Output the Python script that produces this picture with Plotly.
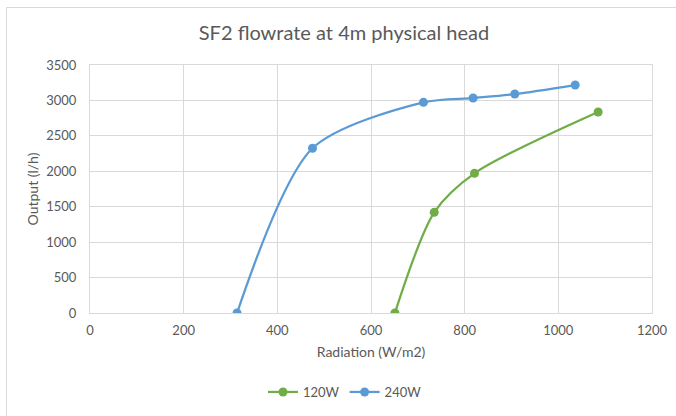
import plotly.graph_objects as go

# Data
radiation_120 = [651, 735, 821, 1085]
output_120 = [0, 1421, 1971, 2836]
radiation_240 = [314, 475, 712, 818, 907, 1036]
output_240 = [0, 2325, 2973, 3034, 3090, 3217]

x_ticks = [0, 200, 400, 600, 800, 1000, 1200]
y_ticks = [0, 500, 1000, 1500, 2000, 2500, 3000, 3500]

FONT = "Lato"
TXT = "#595959"
GRID = "#D9D9D9"

fig = go.Figure()
fig.add_trace(go.Scatter(
    x=radiation_120, y=output_120, name="120W", mode="lines+markers",
    line=dict(color="#70AD47", width=2.25, shape="spline", smoothing=0.8),
    marker=dict(color="#70AD47", size=9),
))
fig.add_trace(go.Scatter(
    x=radiation_240, y=output_240, name="240W", mode="lines+markers",
    line=dict(color="#5B9BD5", width=2.25, shape="spline", smoothing=0.8),
    marker=dict(color="#5B9BD5", size=9),
))

W, H = 676, 416
L, T = 90, 65
R = W - 652
B = H - 313
pw, ph = W - L - R, H - T - B

def px_x(px):
    return (px - L) / pw

def px_y(py):
    return (H - B - py) / ph

fig.update_layout(
    width=W, height=H,
    margin=dict(l=L, r=R, t=T, b=B, autoexpand=False),
    paper_bgcolor="white", plot_bgcolor="white",
    font=dict(family=FONT, color=TXT, size=13),
    title=dict(text="SF2 flowrate at 4m physical head", x=px_x(344), xref="paper",
               xanchor="center", y=1 - 33 / H, yanchor="middle",
               font=dict(size=20, color=TXT, family=FONT)),
    xaxis=dict(range=[0, 1200], tickvals=x_ticks, showgrid=True, gridcolor=GRID,
               gridwidth=1, zeroline=False, showline=True, linecolor=GRID,
               mirror=True, ticks="", ticklabelstandoff=5, ticklabeloverflow="allow",
               tickfont=dict(size=13, color=TXT),
               title=dict(text="Radiation (W/m2)", font=dict(size=14, color=TXT),
                          standoff=10)),
    yaxis=dict(range=[0, 3500], tickvals=y_ticks, showgrid=True, gridcolor=GRID,
               gridwidth=1, zeroline=False, showline=True, linecolor=GRID,
               mirror=True, ticks="", ticklabelstandoff=10, tickfont=dict(size=13, color=TXT),
               title=dict(text="Output (l/h)", font=dict(size=14, color=TXT),
                          standoff=4)),
    legend=dict(orientation="h", x=px_x(345), xanchor="center",
                yref="container", y=(H - 392) / H,
                yanchor="middle", font=dict(size=13, color=TXT),
                itemwidth=30, tracegroupgap=0),
    showlegend=True,
)

fig.add_shape(type="rect", xref="paper", yref="paper",
              x0=px_x(6.5), x1=px_x(700), y0=px_y(440), y1=px_y(7.5),
              line=dict(color=GRID, width=1), fillcolor="rgba(0,0,0,0)",
              layer="below")

fig.write_html("out.html", config={"displayModeBar": False},
               post_script="document.body.style.margin='0px';document.body.style.overflow='hidden';")
